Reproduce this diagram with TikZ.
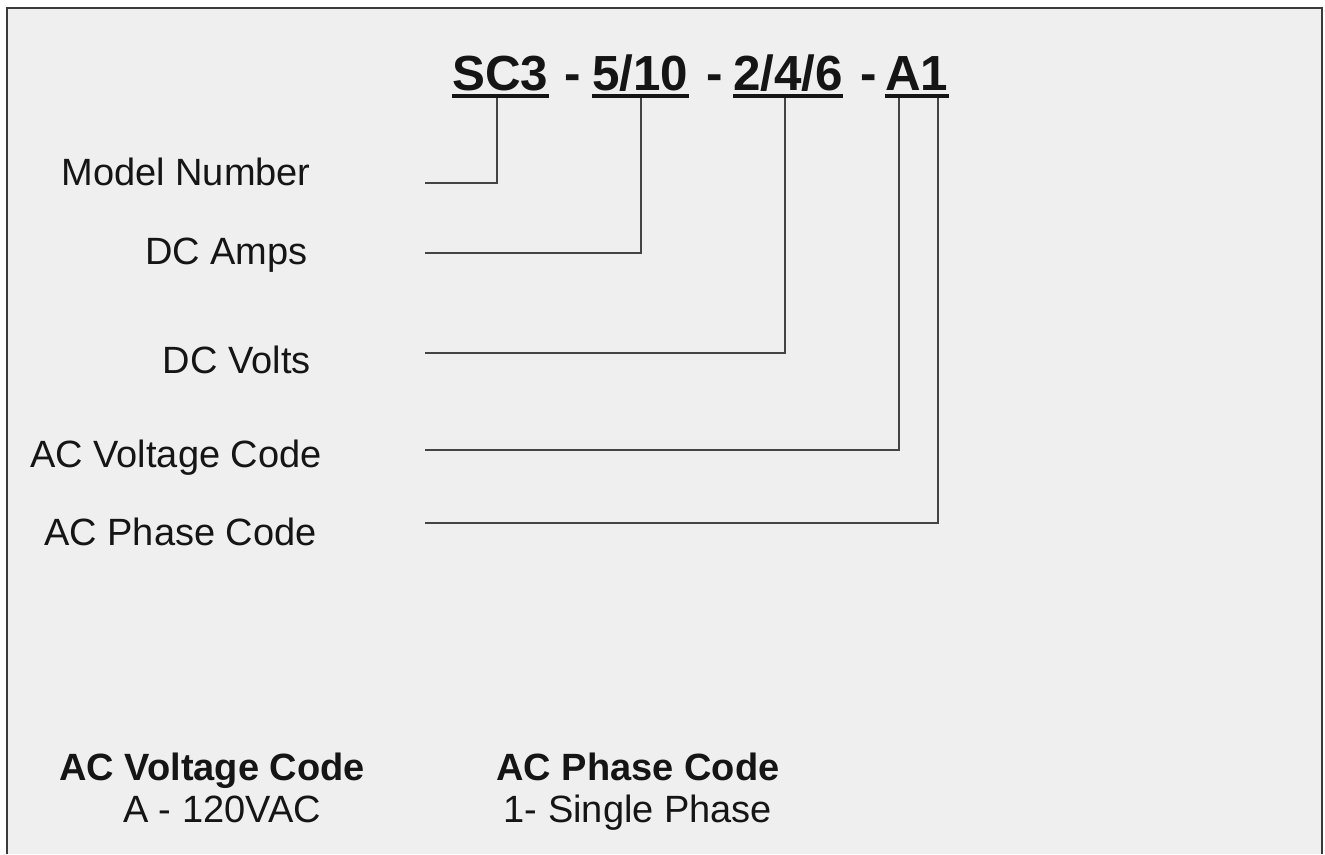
\documentclass[tikz,border=0pt]{standalone}
\usepackage{fontspec}
\setmainfont{Liberation Sans}
\definecolor{bg}{HTML}{EFEFEF}
\definecolor{frame}{HTML}{3A3A3A}
\definecolor{ink}{HTML}{151515}
\definecolor{wire}{HTML}{444444}
\begin{document}
\begin{tikzpicture}[x=0.75pt,y=-0.75pt,
  titlefont/.style={inner sep=0pt,anchor=base west,text=ink,font=\fontsize{37}{40}\selectfont\bfseries},
  labelfont/.style={inner sep=0pt,anchor=base east,text=ink,font=\fontsize{28.5}{32}\selectfont},
  headfont/.style={inner sep=0pt,anchor=base,text=ink,font=\fontsize{28.5}{32}\selectfont\bfseries},
  bodyfont/.style={inner sep=0pt,anchor=base,text=ink,font=\fontsize{28.5}{32}\selectfont},
  uline/.style={line width=3.5pt,ink},
  wirestyle/.style={line width=1.6pt,wire}]
\useasboundingbox (0,0) rectangle (1325,854);
\fill[white] (0,0) rectangle (1325,854);
\fill[bg] (7,8) rectangle (1322,854);
\draw[frame,line width=2pt] (7,854) -- (7,8) -- (1322,8) -- (1322,854);

% title segments
\node[titlefont] (sc3) at (452,90) {SC3};
\node[titlefont] (d1) at (564,90) {-};
\node[titlefont] (amps) at (592,90) {5/10};
\node[titlefont] (d2) at (706,90) {-};
\node[titlefont] (volts) at (733,90) {2/4/6};
\node[titlefont] (d3) at (860,90) {-};
\node[titlefont] (a1) at (885,90) {A1};
\foreach \n in {sc3,amps,volts,a1}
  \draw[uline] ([yshift=-4.5pt]\n.base west) -- ([yshift=-4.5pt]\n.base east);

% labels
\node[labelfont] (lmodel) at (311,185) {Model Number};
\node[labelfont] (lamps) at (308,264) {DC Amps};
\node[labelfont] (lvolts) at (311,373) {DC Volts};
\node[labelfont] (lacv) at (322,467) {AC Voltage Code};
\node[labelfont] (lacp) at (317,545) {AC Phase Code};

% connector ends
\coordinate (e1) at (425,183);
\coordinate (e2) at (425,253);
\coordinate (e3) at (425,353);
\coordinate (e4) at (425,450);
\coordinate (e5) at (425,523);
\coordinate (t1) at (497,98);
\coordinate (t2) at (641,98);
\coordinate (t3) at (785,98);
\coordinate (t4) at (899,98);
\coordinate (t5) at (938,98);

\draw[wirestyle] (t1) |- (e1);
\draw[wirestyle] (t2) |- (e2);
\draw[wirestyle] (t3) |- (e3);
\draw[wirestyle] (t4) |- (e4);
\draw[wirestyle] (t5) |- (e5);

% legends
\node[headfont] (hv) at (212,780) {AC Voltage Code};
\node[bodyfont] (bv) at (222,822) {A - 120VAC};
\node[headfont] (hp) at (638,780) {AC Phase Code};
\node[bodyfont] (bp) at (638,822) {1- Single Phase};
\end{tikzpicture}
\end{document}
